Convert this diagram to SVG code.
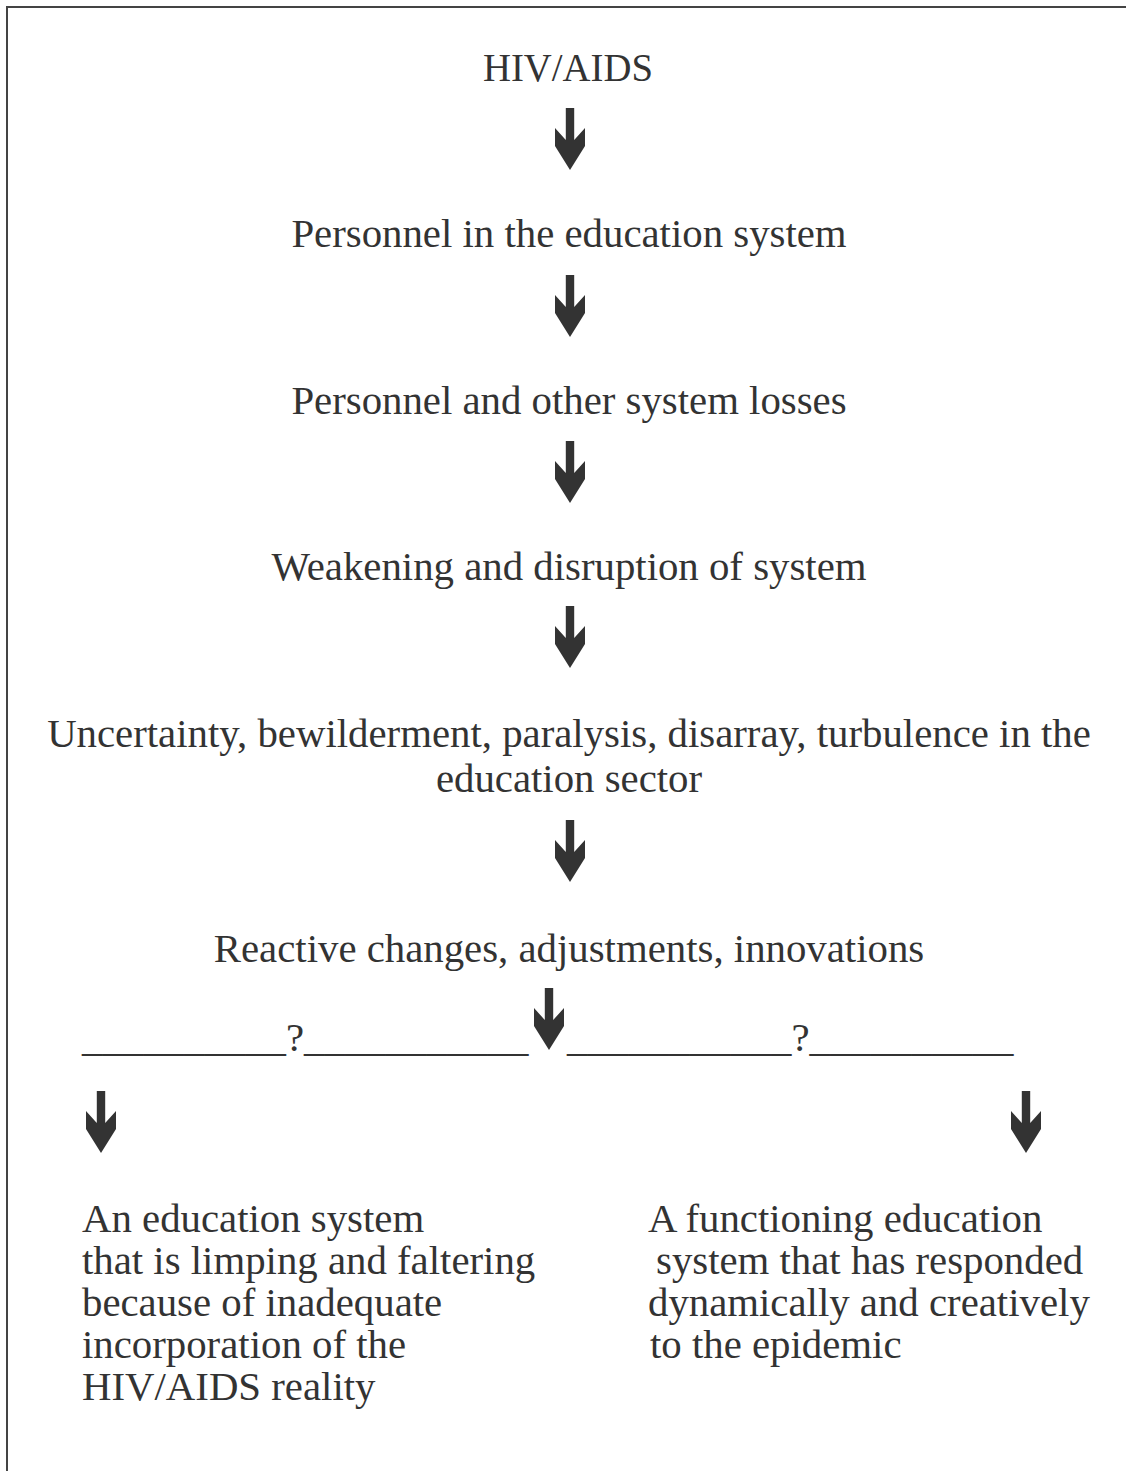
<svg xmlns="http://www.w3.org/2000/svg" xmlns:xlink="http://www.w3.org/1999/xlink" width="1126" height="1471" viewBox="0 0 1126 1471">
<style>
.t{font-family:"Liberation Serif","Times New Roman",serif;font-size:40.8px;fill:#333}
.c{text-anchor:middle}
.frame{fill:none;stroke:#444;stroke-width:2}
.arr{fill:#333}
</style>
<defs>
<path id="arrow" d="M-4.2,0 H4.2 V32 L15,20 V38 L0,62 L-15,38 V20 L-4.2,32 Z"/>
</defs>
<rect width="1126" height="1471" fill="#fff"/>
<path class="frame" d="M7,1471 V7 H1126"/>
<g id="n1"><text class="t c" x="568" y="81" textLength="170" lengthAdjust="spacingAndGlyphs">HIV/AIDS</text></g>
<g id="n2"><text class="t c" x="569" y="247">Personnel in the education system</text></g>
<g id="n3"><text class="t c" x="569" y="414">Personnel and other system losses</text></g>
<g id="n4"><text class="t c" x="569" y="580">Weakening and disruption of system</text></g>
<g id="n5"><text class="t c" x="569" y="747">Uncertainty, bewilderment, paralysis, disarray, turbulence in the</text><text class="t c" x="569" y="792">education sector</text></g>
<g id="n6"><text class="t c" x="569" y="962">Reactive changes, adjustments, innovations</text></g>
<g id="n7"><text class="t" x="82" y="1051">__________?___________</text><text class="t" x="567" y="1051">___________?__________</text></g>
<g id="n8"><text class="t" x="82" y="1232">An education system</text><text class="t" x="82" y="1274">that is limping and faltering</text><text class="t" x="82" y="1316">because of inadequate</text><text class="t" x="82" y="1358">incorporation of the</text><text class="t" x="82" y="1400">HIV/AIDS reality</text></g>
<g id="n9"><text class="t" x="648" y="1232">A functioning education</text><text class="t" x="656" y="1274">system that has responded</text><text class="t" x="648" y="1316">dynamically and creatively</text><text class="t" x="650" y="1358">to the epidemic</text></g>
<g id="connectors" class="arr">
<use xlink:href="#arrow" transform="translate(570,108)"/>
<use xlink:href="#arrow" transform="translate(570,275)"/>
<use xlink:href="#arrow" transform="translate(570,441)"/>
<use xlink:href="#arrow" transform="translate(570,606)"/>
<use xlink:href="#arrow" transform="translate(570,820)"/>
<use xlink:href="#arrow" transform="translate(549,988)"/>
<use xlink:href="#arrow" transform="translate(101,1091)"/>
<use xlink:href="#arrow" transform="translate(1026,1091)"/>
</g>
</svg>
